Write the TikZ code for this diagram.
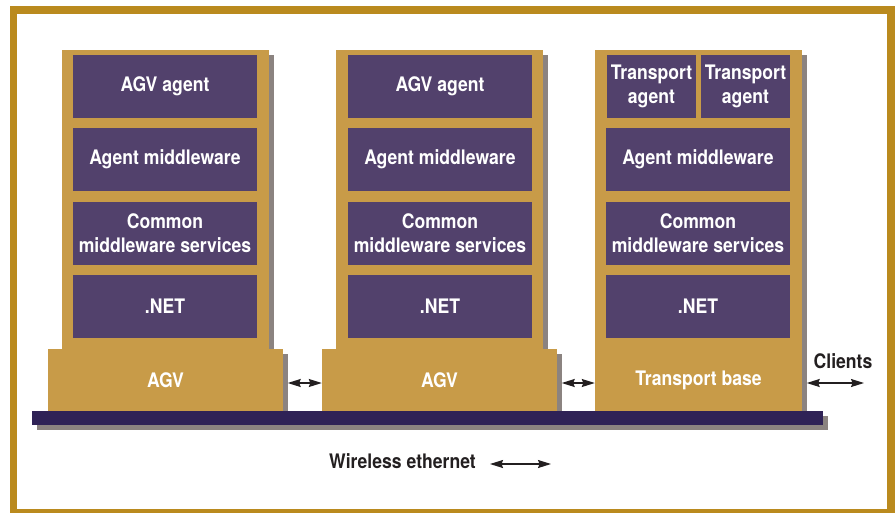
\documentclass[tikz,border=0pt]{standalone}
\usepackage{fontspec}
\setmainfont{TeX Gyre Heros}[FakeStretch=0.88]
\usetikzlibrary{shadows,arrows.meta}

\definecolor{framegold}{HTML}{BA8A1E}
\definecolor{towergold}{HTML}{C89B48}
\definecolor{layerpurple}{HTML}{52416C}
\definecolor{lanpurple}{HTML}{2F2256}
\definecolor{shadowgray}{HTML}{8B8380}
\definecolor{inkdark}{HTML}{231F20}

\newcommand{\lblfont}{\fontsize{20}{23.7}\selectfont\bfseries}

\begin{document}
\begin{tikzpicture}[x=1pt,y=-1pt]
        \tikzstyle{every node}+=[inner sep=0pt]
        \tikzstyle{shade}=[drop shadow={shadow xshift=4.5pt,shadow yshift=-4.5pt,fill=shadowgray,opacity=1}]
        \tikzstyle{tower}=[fill=towergold,shade,minimum width=207pt,minimum height=299pt]
        \tikzstyle{layer}=[fill=layerpurple,text=white,font=\lblfont,align=center,minimum width=184pt,minimum height=63pt]
        \tikzstyle{half}=[layer,minimum width=89pt]
        \tikzstyle{base}=[fill=towergold,shade,text=white,font=\lblfont,minimum width=235pt,minimum height=62pt]
        \tikzstyle{note}=[text=inkdark,font=\lblfont]
        \tikzstyle{link}=[inkdark,line width=1.3pt,{Stealth[length=13pt,width=8pt,inset=1.5pt]}-{Stealth[length=13pt,width=8pt,inset=1.5pt]}]
        \useasboundingbox (0,0) rectangle (896,512);
        \fill[white] (0,0) rectangle (896,512);
        \draw[framegold,line width=7.5pt] (13.5,10) rectangle (891,512.5);
        % towers
        \node[tower] (t1) at (165.5,199.5) {};
        \node[tower] (t2) at (439.5,199.5) {};
        \node[tower] (t3) at (698.5,199.5) {};
        % first AGV
        \node[layer] (a1) at (165,86.5) {AGV agent};
        \node[layer] (m1) at (165,159.5) {Agent middleware};
        \node[layer] (c1) at (165,233.5) {Common\\middleware services};
        \node[layer] (n1) at (165,306.5) {.NET};
        % second AGV
        \node[layer] (a2) at (440,86.5) {AGV agent};
        \node[layer] (m2) at (440,159.5) {Agent middleware};
        \node[layer] (c2) at (440,233.5) {Common\\middleware services};
        \node[layer] (n2) at (440,306.5) {.NET};
        % transport base
        \node[half] (ta) at (651.5,86.5) {Transport\\agent};
        \node[half] (tb) at (745.5,86.5) {Transport\\agent};
        \node[layer] (m3) at (698,159.5) {Agent middleware};
        \node[layer] (c3) at (698,233.5) {Common\\middleware services};
        \node[layer] (n3) at (698,306.5) {.NET};
        % bases
        \node[base] (b1) at (165.5,380) {AGV};
        \node[base] (b2) at (439.5,380) {AGV};
        \node[base,minimum width=207pt] (b3) at (698.5,380) {Transport base};
        % network
        \node[fill=lanpurple,shade,minimum width=791pt,minimum height=14pt] (lan) at (427.5,418) {};
        \node[note] (cl) at (843,361) {Clients};
        \coordinate (clend) at (864,383);
        \node[note] (wl) at (402.5,461) {Wireless ethernet};
        \coordinate (wla) at (490,464);
        \coordinate (wlb) at (551,464);
        \draw[link] ([xshift=4.5pt,yshift=-3pt]b1.east) -- ([yshift=-3pt]b2.west);
        \draw[link] ([xshift=4.5pt,yshift=-3pt]b2.east) -- ([yshift=-3pt]b3.west);
        \draw[link] ([xshift=4.5pt,yshift=-3pt]b3.east) -- (clend);
        \draw[link] (wla) -- (wlb);
\end{tikzpicture}
\end{document}
